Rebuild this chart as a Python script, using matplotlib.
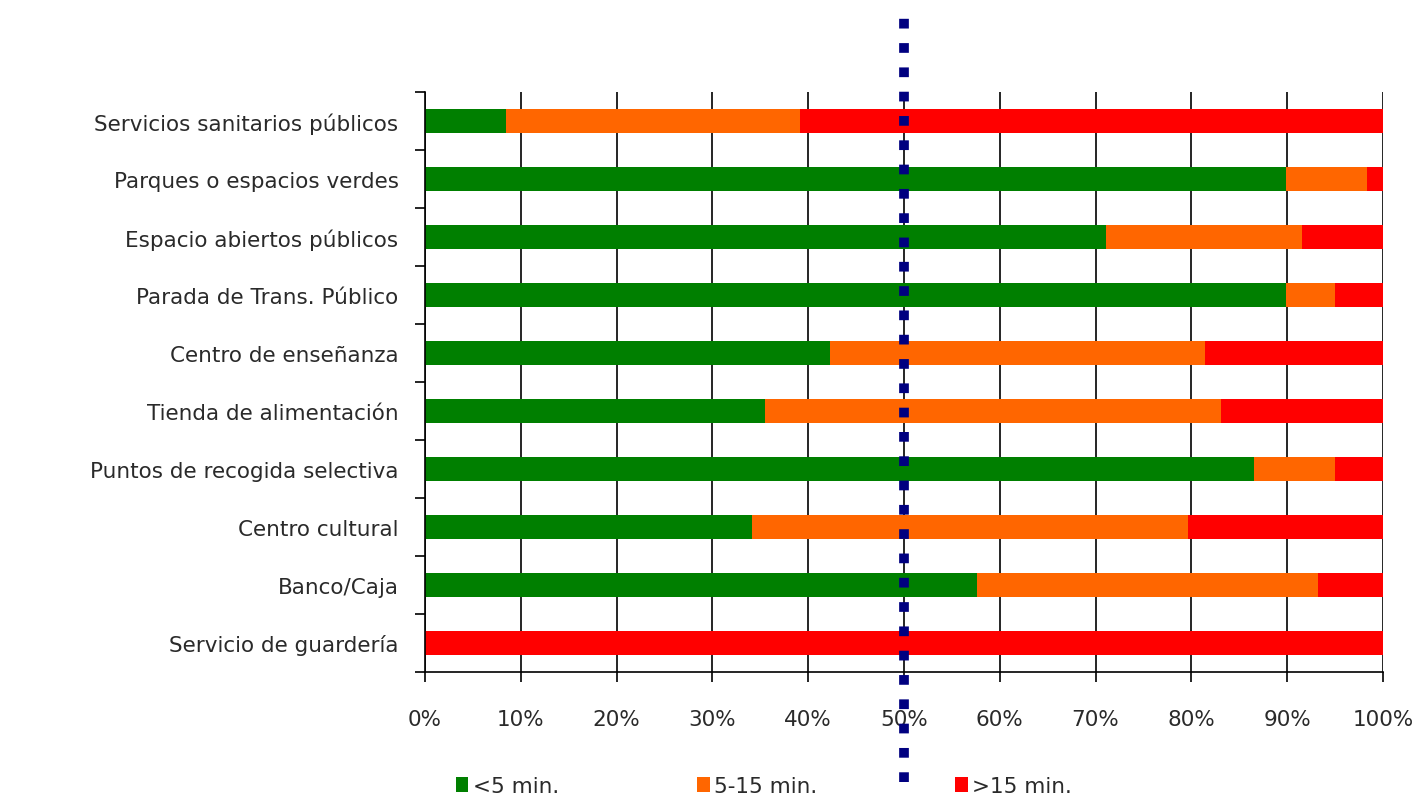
import matplotlib.pyplot as plt
from matplotlib.patches import Patch
import numpy as np

categories = [
    "Servicios sanitarios públicos",
    "Parques o espacios verdes",
    "Espacio abiertos públicos",
    "Parada de Trans. Público",
    "Centro de enseñanza",
    "Tienda de alimentación",
    "Puntos de recogida selectiva",
    "Centro cultural",
    "Banco/Caja",
    "Servicio de guardería",
]
menos_5 = [8.5, 89.9, 71.1, 89.9, 42.3, 35.5, 86.5, 34.1, 57.6, 0.0]
de_5_15 = [30.6, 8.4, 20.5, 5.1, 39.1, 47.6, 8.5, 45.6, 35.6, 0.0]
mas_15 = [60.9, 1.7, 8.4, 5.0, 18.6, 16.9, 5.0, 20.3, 6.8, 100.0]
series_labels = ["<5 min.", "5-15 min.", ">15 min."]
colors = ["#007F00", "#FF6600", "#FF0000"]
xticks = [0, 10, 20, 30, 40, 50, 60, 70, 80, 90, 100]
ref_line = 50

plt.rcParams["font.family"] = ["DejaVu Sans"]
text_color = "#2a2a2a"
fs = 15.5

fig = plt.figure(figsize=(14.25, 8.12), dpi=100)
ax = fig.add_axes([0.2982, 0.1712, 0.6723, 0.7143])

y = np.arange(len(categories))
left = np.zeros(len(categories))
for vals, col, lab in zip([menos_5, de_5_15, mas_15], colors, series_labels):
    ax.barh(y, vals, left=left, height=0.43, color=col, label=lab, zorder=2)
    left = left + np.array(vals)

ax.set_xlim(0, 100)
ax.set_ylim(len(categories) - 0.5, -0.5)
ax.set_xticks(xticks)
ax.set_xticklabels([f"{v}%" for v in xticks])
ax.set_yticks(y)
ax.set_yticklabels(categories)
ax.set_yticks(np.arange(-0.5, len(categories)), minor=True)

ax.grid(axis="x", color="black", linewidth=1.2, zorder=1)
ax.set_axisbelow(True)
for s in ["top", "right"]:
    ax.spines[s].set_visible(False)
ax.spines["left"].set_linewidth(1.2)
ax.spines["bottom"].set_linewidth(1.2)

ax.tick_params(axis="x", direction="out", length=7, width=1.2, pad=20,
               labelsize=fs, labelcolor=text_color)
ax.tick_params(axis="y", which="major", length=0, pad=19,
               labelsize=fs, labelcolor=text_color)
ax.tick_params(axis="y", which="minor", direction="out", length=7, width=1.2)

# linea de referencia al 50 %
ax.axvline(ref_line, ymin=-0.19, ymax=1.145, clip_on=False, color="#000080",
           linewidth=7, linestyle=(0, (1, 1.5)), dash_capstyle="butt", zorder=5)

handles = [Patch(facecolor=c, edgecolor="none") for c in colors]
fig.legend(handles, series_labels, loc="lower center", bbox_to_anchor=(0.536, -0.005),
           ncol=3, frameon=False, fontsize=fs, handlelength=0.6, handleheight=0.7,
           handletextpad=0.2, columnspacing=6.4, labelcolor=text_color)

fig.savefig("out.png", dpi=100)
